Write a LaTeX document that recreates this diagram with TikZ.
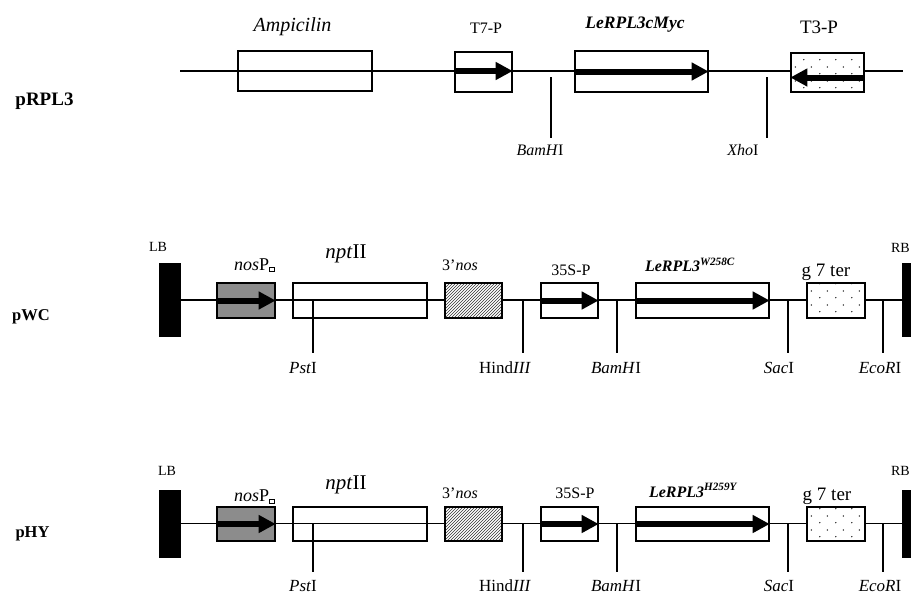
\documentclass[tikz,border=0pt]{standalone}
\usepackage{fontspec}
\setmainfont{Liberation Serif}
\usepackage{tikz}
\usetikzlibrary{arrows.meta, patterns, patterns.meta}

\tikzdeclarepattern{
  name=sparse dots,
  type=uncolored,
  bottom left={(0pt,0pt)},
  top right={(16pt,14pt)},
  tile size={(16pt,14pt)},
  code={
    \pgfpathcircle{\pgfpoint{4pt}{3.5pt}}{0.75pt}
    \pgfpathcircle{\pgfpoint{12pt}{10.5pt}}{0.75pt}
    \pgfusepath{fill}
  }
}

\newcommand{\fsz}[1]{\fontsize{#1}{#1}\selectfont}
\newcommand{\gapbox}{\raisebox{-1pt}{\fboxsep=0pt\fboxrule=0.7pt\fbox{\rule{0pt}{3.5pt}\rule{4.5pt}{0pt}}}}

\begin{document}
\begin{tikzpicture}[
    x=1pt, y=-1pt,
    backbone/.style={line width=1.2pt},
    part/.style={draw, line width=1.4pt, inner sep=0pt, minimum height=35pt},
    filled/.style={part, fill=white},
    promoter/.style={part, fill=black!45},
    hatched/.style={part, preaction={fill=white}, pattern=north east lines, pattern color=black!80},
    dotbox/.style={part, preaction={fill=white}, pattern=sparse dots, pattern color=black},
    border/.style={draw, fill=black, inner sep=0pt, minimum width=21pt},
    gene arrow/.style={line width=6pt, -{Triangle[length=17pt, width=17pt]}},
    site/.style={line width=1.3pt},
    lbl/.style={anchor=base, inner sep=0pt, font=\fsz{16}},
    sitelbl/.style={anchor=base, inner sep=0pt, font=\fsz{17}},
    plasmid/.style={anchor=base, inner sep=0pt, font=\fsz{16.5}\bfseries}
]
    \clip (0,0) rectangle (911,595);

    % pRPL3
    \node[plasmid, font=\fsz{19}\bfseries] (prpl3) at (44.5,105) {pRPL3};
    \coordinate (bb1s) at (180,71);
    \coordinate (bb1e) at (903,71);
    \draw[backbone] (bb1s) -- (bb1e);
    \node[part, minimum width=134pt, minimum height=40pt] (amp) at (305,71) {};
    \node[filled, minimum width=57pt, minimum height=40pt] (t7) at (483.5,72) {};
    \node[filled, minimum width=133pt, minimum height=41pt] (myc) at (641.5,71.5) {};
    \node[dotbox, minimum width=73pt, minimum height=39pt] (t3) at (827.5,72.5) {};
    \draw[gene arrow] ([yshift=1pt]t7.west) -- ([yshift=1pt]t7.east);
    \draw[gene arrow] (myc.west) -- (myc.east);
    \draw[gene arrow] ([yshift=-5pt]t3.east) -- ([yshift=-5pt]t3.west);
    \draw[site] (551,77) -- (551,138);
    \draw[site] (767,77) -- (767,138);
    \node[lbl, font=\fsz{20}\itshape] (amplbl) at (292.5,31.7) {Ampicilin};
    \node[lbl] (t7lbl) at (486,33) {T7-P};
    \node[lbl, font=\fsz{17.5}\bfseries\itshape] (myclbl) at (635,28) {LeRPL3cMyc};
    \node[lbl, font=\fsz{19}] (t3lbl) at (819,33) {T3-P};
    \node[sitelbl, font=\fsz{16}] (bam1) at (540,155) {\textit{BamH}I};
    \node[sitelbl, font=\fsz{16}] (xho1) at (743,155) {\textit{Xho}I};

    % pWC
    \node[plasmid] (pwc) at (31,320) {pWC};
    \node[border, minimum height=73pt] (lb2) at (169.5,300) {};
    \node[border, minimum height=73pt] (rb2) at (912.5,300) {};
    \draw[backbone] (lb2) -- (rb2);
    \node[promoter, minimum width=58pt] (nosp2) at (246,300.5) {};
    \node[part, minimum width=134pt] (npt2) at (360,300.5) {};
    \node[hatched, minimum width=57pt] (nost2) at (473.5,300.5) {};
    \node[filled, minimum width=57pt] (camv2) at (569.5,300.5) {};
    \node[filled, minimum width=133pt] (wc) at (702.5,300.5) {};
    \node[dotbox, minimum width=58pt] (gter2) at (836,300.5) {};
    \draw[gene arrow] (nosp2.west) -- (nosp2.east);
    \draw[gene arrow] (camv2.west) -- (camv2.east);
    \draw[gene arrow] (wc.west) -- (wc.east);
    \draw[site] (313,300) -- (313,353);
    \draw[site] (523,300) -- (523,353);
    \draw[site] (617,300) -- (617,353);
    \draw[site] (788,300) -- (788,353);
    \draw[site] (883,300) -- (883,353);
    \node[sitelbl] (pst2) at (303,373) {\textit{Pst}I};
    \node[sitelbl] (hind2) at (505,373) {Hind\textit{III}};
    \node[sitelbl] (bam2) at (616,373) {\textit{BamH}I};
    \node[sitelbl] (sac2) at (779,373) {\textit{Sac}I};
    \node[sitelbl] (eco2) at (880,373) {\textit{EcoR}I};
    \node[lbl, font=\fsz{14}] (lb2lbl) at (158,251.7) {LB};
    \node[lbl, font=\fsz{14}, anchor=base east] (rb2lbl) at (910,252) {RB};
    \node[lbl, font=\fsz{18}] (nosp2lbl) at (254.5,270) {\textit{nos}P\gapbox};
    \node[lbl, font=\fsz{21}] (npt2lbl) at (346,258) {\textit{npt}II};
    \node[lbl] (nost2lbl) at (460,270) {3'\textit{nos}};
    \node[lbl] (camv2lbl) at (571,275) {35S-P};
    \node[lbl, font=\fsz{16}\bfseries\itshape] (wclbl) at (690,271.7) {LeRPL3\textsuperscript{W258C}};
    \node[lbl, font=\fsz{19}] (gter2lbl) at (826,276.7) {g 7 ter};

    % pHY
    \node[plasmid] (phy) at (32.5,537) {pHY};
    \node[border, minimum height=67pt] (lb3) at (169.5,523.5) {};
    \node[border, minimum height=67pt] (rb3) at (912.5,523.5) {};
    \draw[backbone] (lb3) -- (rb3);
    \node[promoter, minimum width=58pt, minimum height=34pt] (nosp3) at (246,524) {};
    \node[part, minimum width=134pt, minimum height=34pt] (npt3) at (360,524) {};
    \node[hatched, minimum width=57pt, minimum height=34pt] (nost3) at (473.5,524) {};
    \node[filled, minimum width=57pt, minimum height=34pt] (camv3) at (569.5,524) {};
    \node[filled, minimum width=133pt, minimum height=34pt] (hy) at (702.5,524) {};
    \node[dotbox, minimum width=58pt, minimum height=34pt] (gter3) at (836,524) {};
    \draw[gene arrow] (nosp3.west) -- (nosp3.east);
    \draw[gene arrow] (camv3.west) -- (camv3.east);
    \draw[gene arrow] (hy.west) -- (hy.east);
    \draw[site] (313,523) -- (313,572);
    \draw[site] (523,523) -- (523,572);
    \draw[site] (617,523) -- (617,572);
    \draw[site] (788,523) -- (788,572);
    \draw[site] (883,523) -- (883,572);
    \node[sitelbl] (pst3) at (303,591) {\textit{Pst}I};
    \node[sitelbl] (hind3) at (505,591) {Hind\textit{III}};
    \node[sitelbl] (bam3) at (616,591) {\textit{BamH}I};
    \node[sitelbl] (sac3) at (779,591) {\textit{Sac}I};
    \node[sitelbl] (eco3) at (880,591) {\textit{EcoR}I};
    \node[lbl, font=\fsz{14}] (lb3lbl) at (167,475) {LB};
    \node[lbl, font=\fsz{14}, anchor=base east] (rb3lbl) at (910,475) {RB};
    \node[lbl, font=\fsz{18}] (nosp3lbl) at (254.5,501.7) {\textit{nos}P\gapbox};
    \node[lbl, font=\fsz{21}] (npt3lbl) at (346,489) {\textit{npt}II};
    \node[lbl] (nost3lbl) at (460,498) {3'\textit{nos}};
    \node[lbl] (camv3lbl) at (575,498) {35S-P};
    \node[lbl, font=\fsz{16}\bfseries\itshape] (hylbl) at (693,497) {LeRPL3\textsuperscript{H259Y}};
    \node[lbl, font=\fsz{19}] (gter3lbl) at (827,500) {g 7 ter};
\end{tikzpicture}
\end{document}
